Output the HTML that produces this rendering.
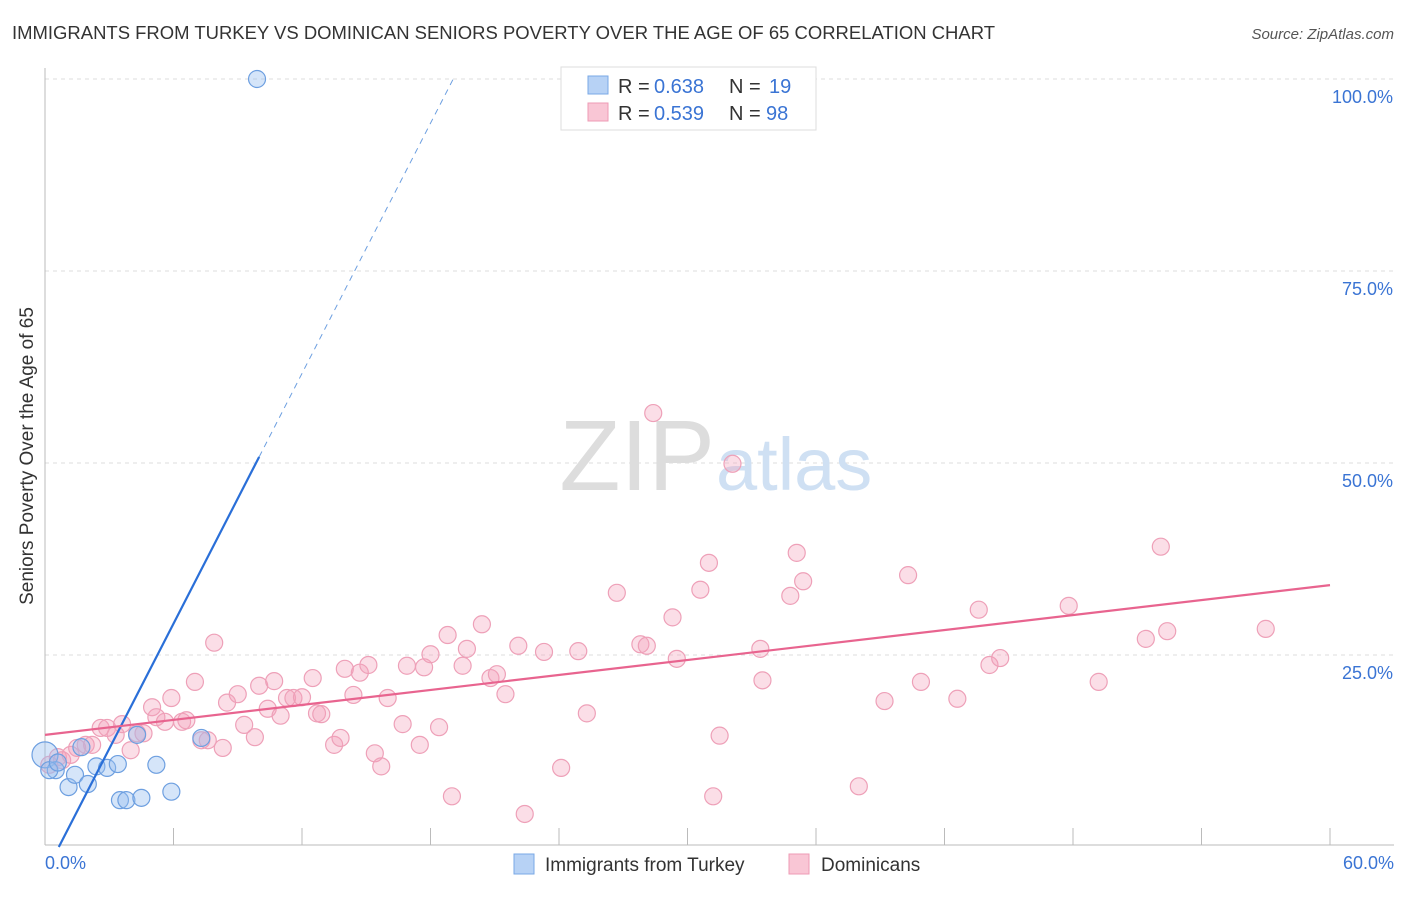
<!DOCTYPE html>
<html><head><meta charset="utf-8"><style>
body{margin:0;background:#fff;font-family:"Liberation Sans",sans-serif}
svg text{font-family:"Liberation Sans",sans-serif}
</style></head><body>
<svg width="1406" height="892" viewBox="0 0 1406 892">
<text x="12" y="39" font-size="18" fill="#333" textLength="983" lengthAdjust="spacingAndGlyphs">IMMIGRANTS FROM TURKEY VS DOMINICAN SENIORS POVERTY OVER THE AGE OF 65 CORRELATION CHART</text>
<text x="1394" y="39" font-size="15" fill="#555" font-style="italic" text-anchor="end">Source: ZipAtlas.com</text>
<text x="33" y="456" font-size="19" fill="#333" text-anchor="middle" transform="rotate(-90 33 456)">Seniors Poverty Over the Age of 65</text>
<g id="grid"></g>
<text x="715" y="490" font-size="100" fill="#ddd" text-anchor="end" font-family="Liberation Serif">ZIP</text>
<text x="716" y="490" font-size="74" fill="#cfe0f3">atlas</text>
<g id="pts"></g>
<g id="lines"></g>
<g>
<rect x="561" y="67" width="255" height="63" fill="#fff" stroke="#ddd"/>
<rect x="588" y="76" width="20" height="18" fill="#b7d2f5" stroke="#7aa8e6"/>
<rect x="588" y="103" width="20" height="18" fill="#f9c6d5" stroke="#ee9bb5"/>
<text x="618" y="93" font-size="20" fill="#333">R = </text><text x="654" y="93" font-size="20" fill="#3a74d4">0.638</text>
<text x="729" y="93" font-size="20" fill="#333">N = </text><text x="769" y="93" font-size="20" fill="#3a74d4">19</text>
<text x="618" y="120" font-size="20" fill="#333">R = </text><text x="654" y="120" font-size="20" fill="#3a74d4">0.539</text>
<text x="729" y="120" font-size="20" fill="#333">N = </text><text x="766" y="120" font-size="20" fill="#3a74d4">98</text>
</g>
<g>
<rect x="514" y="854" width="20" height="20" fill="#b7d2f5" stroke="#7aa8e6"/>
<text x="545" y="871" font-size="19" fill="#333">Immigrants from Turkey</text>
<rect x="789" y="854" width="20" height="20" fill="#f9c6d5" stroke="#ee9bb5"/>
<text x="821" y="871" font-size="19" fill="#333">Dominicans</text>
</g>
</svg>
<script>
const blueX=[0,0.5,1.1,1.4,1.7,2.4,2.0,2.9,3.4,3.5,3.8,4.5,4.3,5.2,5.9,7.3,9.9,0.2,0.6];
const blueY=[12.0,10.0,7.8,9.4,13.0,10.5,8.2,10.3,10.8,6.1,6.1,6.4,14.6,10.7,7.2,14.2,100,10,11];
const pinkX=[0.2,0.6,0.8,1.2,1.5,1.9,2.2,2.6,2.9,3.3,3.6,4.0,4.3,4.6,5.0,5.2,5.6,5.9,6.4,6.6,7.0,7.3,7.6,7.9,8.3,8.5,9.0,9.3,9.8,10.0,10.4,10.7,11.0,11.3,11.6,12.0,12.5,12.7,12.9,13.5,13.8,14.0,14.4,14.7,15.1,15.4,15.7,16.0,16.7,16.9,17.5,17.7,18.0,18.4,18.8,19.0,19.5,19.7,20.4,20.8,21.1,21.5,22.1,22.4,23.3,24.1,24.9,25.3,26.7,27.8,28.1,28.4,29.3,29.5,30.6,31.0,31.2,31.5,32.1,33.4,33.5,34.8,35.1,35.4,38.0,39.2,40.3,40.9,42.6,43.6,44.1,44.6,47.8,49.2,51.4,52.1,52.4,57.0];
const pinkY=[10.7,11.7,11.3,12.0,12.9,13.3,13.3,15.5,15.5,14.6,16.0,12.6,14.8,14.8,18.2,16.9,16.3,19.4,16.3,16.5,21.5,13.9,13.9,26.6,12.9,18.8,19.9,15.9,14.3,21.0,18.0,21.6,17.1,19.4,19.4,19.5,22.0,17.4,17.3,13.3,14.2,23.2,19.8,22.7,23.7,12.2,10.5,19.4,16.0,23.6,13.3,23.4,25.1,15.6,27.6,6.6,23.6,25.8,29.0,22.0,22.5,19.9,26.2,4.3,25.4,10.3,25.5,17.4,33.1,26.4,26.2,56.5,29.9,24.5,33.5,37.0,6.6,14.5,49.9,25.8,21.7,32.7,38.3,34.6,7.9,19.0,35.4,21.5,19.3,30.9,23.7,24.6,31.4,21.5,27.1,39.1,28.1,28.4];
const yTicks=[25,50,75,100];
const yTickLabels=["25.0%","50.0%","75.0%","100.0%"];
const blueLine=[5.43,-3.5];
const pinkLine=[0.325,14.6];
const X=v=>45+v/60*1285, Y=v=>847-v/100*768;
const NS="http://www.w3.org/2000/svg";
function mk(t,a,p){const e=document.createElementNS(NS,t);for(const k in a)e.setAttribute(k,a[k]);p.appendChild(e);return e;}
const g=document.getElementById('grid');
yTicks.forEach((t,i)=>{
 const l=mk('line',{x1:45,x2:1394,y1:Y(t),y2:Y(t),stroke:'#ddd','stroke-dasharray':'4,4'},g);
 
 
 const tx=mk('text',{x:1393,y:Y(t)+24,'font-size':18,fill:'#3a74d4','text-anchor':'end'},g);tx.textContent=yTickLabels[i];
 
 
});
mk('line',{x1:45,x2:45,y1:68,y2:845,stroke:'#bbb'},g);
mk('line',{x1:45,x2:1394,y1:845,y2:845,stroke:'#bbb'},g);
for(let i=1;i<=10;i++){const x=X(i*6);mk('line',{x1:x,x2:x,y1:828,y2:845,stroke:'#bbb'},g);}
let t0=mk('text',{x:45,y:869,'font-size':18,fill:'#3a74d4'},g);t0.textContent='0.0%';


let t1=mk('text',{x:1394,y:869,'font-size':18,fill:'#3a74d4','text-anchor':'end'},g);t1.textContent='60.0%';


const p=document.getElementById('pts');
pinkX.forEach((x,i)=>{const c=mk('circle',{cx:X(x),cy:Y(pinkY[i]),r:8.5,fill:'rgba(244,160,185,0.35)',stroke:'#eea0b8','stroke-width':1.2},p);
 
 });
blueX.forEach((x,i)=>{const c=mk('circle',{cx:X(x),cy:Y(blueY[i]),r:i==0?13:8.5,fill:'rgba(150,190,240,0.4)',stroke:'#6d9fe0','stroke-width':1.2},p);
 
 });
const L=document.getElementById('lines');
const bx0=-blueLine[1]/blueLine[0], bx1=10, bx2=(100-blueLine[1])/blueLine[0];
let bl=mk('line',{x1:X(bx0),y1:Y(0),x2:X(bx1),y2:Y(blueLine[0]*bx1+blueLine[1]),stroke:'#2a6fd8','stroke-width':2.2},L);


let bd=mk('line',{x1:X(bx1),y1:Y(blueLine[0]*bx1+blueLine[1]),x2:X(bx2),y2:Y(100),stroke:'#6d9fe0','stroke-width':1,'stroke-dasharray':'6,5'},L);


let pl=mk('line',{x1:X(0),y1:Y(pinkLine[1]),x2:X(60),y2:Y(pinkLine[0]*60+pinkLine[1]),stroke:'#e8648f','stroke-width':2.2},L);


</script>
</body></html>
